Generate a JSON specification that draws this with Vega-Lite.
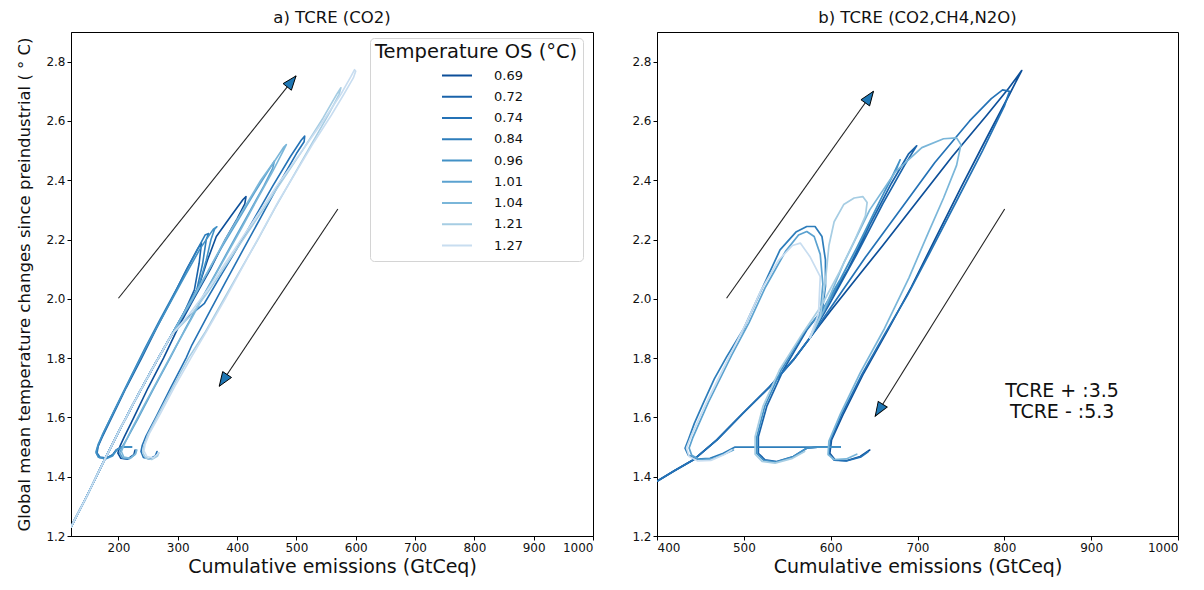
{
  "$schema": "https://vega.github.io/schema/vega-lite/v6.json",
  "padding": {"left": 16, "top": 9, "right": 0, "bottom": 0},
  "background": "white",
  "config": {
    "font": "DejaVu Sans",
    "view": {"stroke": "#000", "strokeWidth": 1},
    "axis": {
      "grid": false, "domainColor": "#000", "tickColor": "#000", "tickSize": 4,
      "labelFontSize": 12, "labelColor": "#111", "labelPadding": 2,
      "titleFontWeight": "normal", "titleColor": "#111", "labelFont": "DejaVu Sans", "titleFont": "DejaVu Sans"
    },
    "title": {"fontSize": 16.5, "fontWeight": "normal", "font": "DejaVu Sans", "color": "#111", "offset": 6},
    "text": {"font": "DejaVu Sans"}
  },
  "datasets": {
    "curves": [
      {"p":"a","s":"0.69","x":120,"y":1.23},{"p":"a","s":"0.69","x":148,"y":1.34},{"p":"a","s":"0.69","x":176,"y":1.455},{"p":"a","s":"0.69","x":200,"y":1.55},{"p":"a","s":"0.69","x":230,"y":1.665},{"p":"a","s":"0.69","x":260,"y":1.775},{"p":"a","s":"0.69","x":290,"y":1.88},
      {"p":"a","s":"0.69","x":320,"y":1.98},{"p":"a","s":"0.69","x":335,"y":2.04},{"p":"a","s":"0.69","x":350,"y":2.13},{"p":"a","s":"0.69","x":365,"y":2.21},{"p":"a","s":"0.69","x":390,"y":2.28},{"p":"a","s":"0.69","x":410,"y":2.335},{"p":"a","s":"0.69","x":415,"y":2.345},{"p":"a","s":"0.69","x":413,"y":2.32},{"p":"a","s":"0.69","x":400,"y":2.27},{"p":"a","s":"0.69","x":380,"y":2.2},{"p":"a","s":"0.69","x":355,"y":2.1},{"p":"a","s":"0.69","x":327,"y":2.0},{"p":"a","s":"0.69","x":300,"y":1.9},{"p":"a","s":"0.69","x":276,"y":1.8},{"p":"a","s":"0.69","x":250,"y":1.7},{"p":"a","s":"0.69","x":226,"y":1.6},{"p":"a","s":"0.69","x":210,"y":1.535},{"p":"a","s":"0.69","x":203,"y":1.505},{"p":"a","s":"0.69","x":199,"y":1.48},{"p":"a","s":"0.69","x":204,"y":1.462},{"p":"a","s":"0.69","x":215,"y":1.459},{"p":"a","s":"0.69","x":226,"y":1.474},{"p":"a","s":"0.69","x":228,"y":1.49},

      {"p":"a","s":"0.72","x":120,"y":1.23},{"p":"a","s":"0.72","x":148,"y":1.34},{"p":"a","s":"0.72","x":176,"y":1.455},{"p":"a","s":"0.72","x":200,"y":1.55},{"p":"a","s":"0.72","x":230,"y":1.665},{"p":"a","s":"0.72","x":260,"y":1.775},{"p":"a","s":"0.72","x":290,"y":1.88},
      {"p":"a","s":"0.72","x":310,"y":1.95},{"p":"a","s":"0.72","x":328,"y":2.03},{"p":"a","s":"0.72","x":336,"y":2.12},{"p":"a","s":"0.72","x":340,"y":2.188},{"p":"a","s":"0.72","x":334,"y":2.17},{"p":"a","s":"0.72","x":315,"y":2.1},{"p":"a","s":"0.72","x":290,"y":2.0},{"p":"a","s":"0.72","x":264,"y":1.9},{"p":"a","s":"0.72","x":239,"y":1.8},{"p":"a","s":"0.72","x":213,"y":1.7},{"p":"a","s":"0.72","x":190,"y":1.605},{"p":"a","s":"0.72","x":173,"y":1.535},{"p":"a","s":"0.72","x":165,"y":1.5},{"p":"a","s":"0.72","x":163,"y":1.478},{"p":"a","s":"0.72","x":168,"y":1.465},{"p":"a","s":"0.72","x":179,"y":1.462},{"p":"a","s":"0.72","x":190,"y":1.473},{"p":"a","s":"0.72","x":196,"y":1.49},{"p":"a","s":"0.72","x":205,"y":1.5},{"p":"a","s":"0.72","x":222,"y":1.5},

      {"p":"a","s":"0.74","x":120,"y":1.23},{"p":"a","s":"0.74","x":148,"y":1.34},{"p":"a","s":"0.74","x":176,"y":1.455},{"p":"a","s":"0.74","x":200,"y":1.55},{"p":"a","s":"0.74","x":230,"y":1.665},{"p":"a","s":"0.74","x":260,"y":1.775},{"p":"a","s":"0.74","x":290,"y":1.88},
      {"p":"a","s":"0.74","x":318,"y":1.94},{"p":"a","s":"0.74","x":345,"y":1.985},{"p":"a","s":"0.74","x":370,"y":2.07},{"p":"a","s":"0.74","x":400,"y":2.17},{"p":"a","s":"0.74","x":430,"y":2.275},{"p":"a","s":"0.74","x":460,"y":2.38},{"p":"a","s":"0.74","x":490,"y":2.48},{"p":"a","s":"0.74","x":508,"y":2.535},{"p":"a","s":"0.74","x":514,"y":2.549},{"p":"a","s":"0.74","x":513,"y":2.53},{"p":"a","s":"0.74","x":500,"y":2.49},{"p":"a","s":"0.74","x":470,"y":2.385},{"p":"a","s":"0.74","x":440,"y":2.275},{"p":"a","s":"0.74","x":410,"y":2.165},{"p":"a","s":"0.74","x":380,"y":2.055},{"p":"a","s":"0.74","x":352,"y":1.95},{"p":"a","s":"0.74","x":324,"y":1.845},{"p":"a","s":"0.74","x":314,"y":1.8},{"p":"a","s":"0.74","x":288,"y":1.7},{"p":"a","s":"0.74","x":263,"y":1.6},{"p":"a","s":"0.74","x":246,"y":1.535},{"p":"a","s":"0.74","x":240,"y":1.505},{"p":"a","s":"0.74","x":238,"y":1.485},{"p":"a","s":"0.74","x":242,"y":1.465},{"p":"a","s":"0.74","x":252,"y":1.46},{"p":"a","s":"0.74","x":262,"y":1.47},{"p":"a","s":"0.74","x":265,"y":1.485},

      {"p":"a","s":"0.84","x":120,"y":1.23},{"p":"a","s":"0.84","x":148,"y":1.34},{"p":"a","s":"0.84","x":176,"y":1.455},{"p":"a","s":"0.84","x":200,"y":1.55},{"p":"a","s":"0.84","x":230,"y":1.665},{"p":"a","s":"0.84","x":260,"y":1.775},{"p":"a","s":"0.84","x":290,"y":1.88},
      {"p":"a","s":"0.84","x":315,"y":1.97},{"p":"a","s":"0.84","x":332,"y":2.03},{"p":"a","s":"0.84","x":342,"y":2.12},{"p":"a","s":"0.84","x":348,"y":2.2},{"p":"a","s":"0.84","x":352,"y":2.22},{"p":"a","s":"0.84","x":346,"y":2.215},{"p":"a","s":"0.84","x":326,"y":2.14},{"p":"a","s":"0.84","x":300,"y":2.04},{"p":"a","s":"0.84","x":270,"y":1.93},{"p":"a","s":"0.84","x":244,"y":1.83},{"p":"a","s":"0.84","x":218,"y":1.725},{"p":"a","s":"0.84","x":192,"y":1.62},{"p":"a","s":"0.84","x":173,"y":1.54},{"p":"a","s":"0.84","x":166,"y":1.505},{"p":"a","s":"0.84","x":164,"y":1.48},{"p":"a","s":"0.84","x":169,"y":1.466},{"p":"a","s":"0.84","x":180,"y":1.463},{"p":"a","s":"0.84","x":191,"y":1.475},{"p":"a","s":"0.84","x":197,"y":1.49},{"p":"a","s":"0.84","x":206,"y":1.5},{"p":"a","s":"0.84","x":222,"y":1.5},

      {"p":"a","s":"0.96","x":120,"y":1.23},{"p":"a","s":"0.96","x":148,"y":1.34},{"p":"a","s":"0.96","x":176,"y":1.455},{"p":"a","s":"0.96","x":200,"y":1.55},{"p":"a","s":"0.96","x":230,"y":1.665},{"p":"a","s":"0.96","x":260,"y":1.775},{"p":"a","s":"0.96","x":290,"y":1.88},
      {"p":"a","s":"0.96","x":318,"y":1.98},{"p":"a","s":"0.96","x":335,"y":2.04},{"p":"a","s":"0.96","x":348,"y":2.13},{"p":"a","s":"0.96","x":356,"y":2.2},{"p":"a","s":"0.96","x":362,"y":2.235},{"p":"a","s":"0.96","x":366,"y":2.243},{"p":"a","s":"0.96","x":360,"y":2.235},{"p":"a","s":"0.96","x":338,"y":2.17},{"p":"a","s":"0.96","x":310,"y":2.07},{"p":"a","s":"0.96","x":280,"y":1.96},{"p":"a","s":"0.96","x":250,"y":1.85},{"p":"a","s":"0.96","x":222,"y":1.74},{"p":"a","s":"0.96","x":196,"y":1.635},{"p":"a","s":"0.96","x":175,"y":1.55},{"p":"a","s":"0.96","x":166,"y":1.51},{"p":"a","s":"0.96","x":162,"y":1.483},{"p":"a","s":"0.96","x":166,"y":1.466},{"p":"a","s":"0.96","x":178,"y":1.46},{"p":"a","s":"0.96","x":190,"y":1.47},{"p":"a","s":"0.96","x":197,"y":1.49},{"p":"a","s":"0.96","x":206,"y":1.5},{"p":"a","s":"0.96","x":222,"y":1.5},

      {"p":"a","s":"1.01","x":120,"y":1.23},{"p":"a","s":"1.01","x":148,"y":1.34},{"p":"a","s":"1.01","x":176,"y":1.455},{"p":"a","s":"1.01","x":200,"y":1.55},{"p":"a","s":"1.01","x":230,"y":1.665},{"p":"a","s":"1.01","x":260,"y":1.775},{"p":"a","s":"1.01","x":290,"y":1.88},
      {"p":"a","s":"1.01","x":320,"y":1.98},{"p":"a","s":"1.01","x":345,"y":2.07},{"p":"a","s":"1.01","x":370,"y":2.16},{"p":"a","s":"1.01","x":400,"y":2.26},{"p":"a","s":"1.01","x":430,"y":2.36},{"p":"a","s":"1.01","x":452,"y":2.43},{"p":"a","s":"1.01","x":463,"y":2.465},{"p":"a","s":"1.01","x":460,"y":2.44},{"p":"a","s":"1.01","x":445,"y":2.38},{"p":"a","s":"1.01","x":420,"y":2.29},{"p":"a","s":"1.01","x":395,"y":2.2},{"p":"a","s":"1.01","x":368,"y":2.1},{"p":"a","s":"1.01","x":340,"y":2.0},{"p":"a","s":"1.01","x":313,"y":1.9},{"p":"a","s":"1.01","x":287,"y":1.8},{"p":"a","s":"1.01","x":260,"y":1.7},{"p":"a","s":"1.01","x":234,"y":1.6},{"p":"a","s":"1.01","x":215,"y":1.53},{"p":"a","s":"1.01","x":206,"y":1.5},{"p":"a","s":"1.01","x":202,"y":1.48},{"p":"a","s":"1.01","x":207,"y":1.463},{"p":"a","s":"1.01","x":218,"y":1.46},{"p":"a","s":"1.01","x":228,"y":1.475},{"p":"a","s":"1.01","x":230,"y":1.49},

      {"p":"a","s":"1.04","x":120,"y":1.23},{"p":"a","s":"1.04","x":148,"y":1.34},{"p":"a","s":"1.04","x":176,"y":1.455},{"p":"a","s":"1.04","x":200,"y":1.55},{"p":"a","s":"1.04","x":230,"y":1.665},{"p":"a","s":"1.04","x":260,"y":1.775},{"p":"a","s":"1.04","x":290,"y":1.88},
      {"p":"a","s":"1.04","x":320,"y":1.985},{"p":"a","s":"1.04","x":350,"y":2.09},{"p":"a","s":"1.04","x":380,"y":2.2},{"p":"a","s":"1.04","x":410,"y":2.3},{"p":"a","s":"1.04","x":440,"y":2.4},{"p":"a","s":"1.04","x":465,"y":2.47},{"p":"a","s":"1.04","x":478,"y":2.51},{"p":"a","s":"1.04","x":483,"y":2.52},{"p":"a","s":"1.04","x":478,"y":2.5},{"p":"a","s":"1.04","x":460,"y":2.43},{"p":"a","s":"1.04","x":435,"y":2.34},{"p":"a","s":"1.04","x":408,"y":2.24},{"p":"a","s":"1.04","x":380,"y":2.14},{"p":"a","s":"1.04","x":352,"y":2.04},{"p":"a","s":"1.04","x":325,"y":1.94},{"p":"a","s":"1.04","x":297,"y":1.84},{"p":"a","s":"1.04","x":270,"y":1.74},{"p":"a","s":"1.04","x":243,"y":1.64},{"p":"a","s":"1.04","x":222,"y":1.56},{"p":"a","s":"1.04","x":210,"y":1.51},{"p":"a","s":"1.04","x":205,"y":1.485},{"p":"a","s":"1.04","x":209,"y":1.466},{"p":"a","s":"1.04","x":220,"y":1.462},{"p":"a","s":"1.04","x":229,"y":1.477},{"p":"a","s":"1.04","x":231,"y":1.49},

      {"p":"a","s":"1.21","x":120,"y":1.23},{"p":"a","s":"1.21","x":148,"y":1.34},{"p":"a","s":"1.21","x":176,"y":1.455},{"p":"a","s":"1.21","x":200,"y":1.55},{"p":"a","s":"1.21","x":230,"y":1.665},{"p":"a","s":"1.21","x":260,"y":1.775},{"p":"a","s":"1.21","x":290,"y":1.88},
      {"p":"a","s":"1.21","x":320,"y":1.94},{"p":"a","s":"1.21","x":350,"y":2.02},{"p":"a","s":"1.21","x":390,"y":2.14},{"p":"a","s":"1.21","x":430,"y":2.26},{"p":"a","s":"1.21","x":470,"y":2.38},{"p":"a","s":"1.21","x":510,"y":2.5},{"p":"a","s":"1.21","x":545,"y":2.61},{"p":"a","s":"1.21","x":568,"y":2.69},{"p":"a","s":"1.21","x":575,"y":2.712},{"p":"a","s":"1.21","x":572,"y":2.69},{"p":"a","s":"1.21","x":555,"y":2.625},{"p":"a","s":"1.21","x":525,"y":2.52},{"p":"a","s":"1.21","x":495,"y":2.415},{"p":"a","s":"1.21","x":465,"y":2.31},{"p":"a","s":"1.21","x":435,"y":2.2},{"p":"a","s":"1.21","x":405,"y":2.095},{"p":"a","s":"1.21","x":375,"y":1.99},{"p":"a","s":"1.21","x":347,"y":1.89},{"p":"a","s":"1.21","x":318,"y":1.8},{"p":"a","s":"1.21","x":292,"y":1.705},{"p":"a","s":"1.21","x":267,"y":1.61},{"p":"a","s":"1.21","x":249,"y":1.54},{"p":"a","s":"1.21","x":243,"y":1.505},{"p":"a","s":"1.21","x":241,"y":1.48},{"p":"a","s":"1.21","x":246,"y":1.463},{"p":"a","s":"1.21","x":256,"y":1.458},{"p":"a","s":"1.21","x":266,"y":1.47},{"p":"a","s":"1.21","x":268,"y":1.48},

      {"p":"a","s":"1.27","x":120,"y":1.23},{"p":"a","s":"1.27","x":148,"y":1.34},{"p":"a","s":"1.27","x":176,"y":1.455},{"p":"a","s":"1.27","x":200,"y":1.55},{"p":"a","s":"1.27","x":230,"y":1.665},{"p":"a","s":"1.27","x":260,"y":1.775},{"p":"a","s":"1.27","x":290,"y":1.88},
      {"p":"a","s":"1.27","x":320,"y":1.95},{"p":"a","s":"1.27","x":350,"y":2.03},{"p":"a","s":"1.27","x":390,"y":2.15},{"p":"a","s":"1.27","x":430,"y":2.27},{"p":"a","s":"1.27","x":470,"y":2.39},{"p":"a","s":"1.27","x":510,"y":2.5},{"p":"a","s":"1.27","x":545,"y":2.6},{"p":"a","s":"1.27","x":575,"y":2.69},{"p":"a","s":"1.27","x":592,"y":2.75},{"p":"a","s":"1.27","x":598,"y":2.773},{"p":"a","s":"1.27","x":600,"y":2.768},{"p":"a","s":"1.27","x":596,"y":2.745},{"p":"a","s":"1.27","x":580,"y":2.69},{"p":"a","s":"1.27","x":559,"y":2.62},{"p":"a","s":"1.27","x":530,"y":2.53},{"p":"a","s":"1.27","x":500,"y":2.43},{"p":"a","s":"1.27","x":470,"y":2.33},{"p":"a","s":"1.27","x":440,"y":2.22},{"p":"a","s":"1.27","x":410,"y":2.11},{"p":"a","s":"1.27","x":380,"y":2.0},{"p":"a","s":"1.27","x":350,"y":1.895},{"p":"a","s":"1.27","x":322,"y":1.8},{"p":"a","s":"1.27","x":295,"y":1.705},{"p":"a","s":"1.27","x":270,"y":1.61},{"p":"a","s":"1.27","x":252,"y":1.545},{"p":"a","s":"1.27","x":245,"y":1.51},{"p":"a","s":"1.27","x":243,"y":1.487},{"p":"a","s":"1.27","x":248,"y":1.468},{"p":"a","s":"1.27","x":258,"y":1.463},{"p":"a","s":"1.27","x":268,"y":1.48},

      {"p":"b","s":"0.69","x":400,"y":1.385},{"p":"b","s":"0.69","x":420,"y":1.42},{"p":"b","s":"0.69","x":442,"y":1.457},{"p":"b","s":"0.69","x":469,"y":1.524},{"p":"b","s":"0.69","x":499,"y":1.614},{"p":"b","s":"0.69","x":530,"y":1.704},{"p":"b","s":"0.69","x":557,"y":1.794},{"p":"b","s":"0.69","x":576,"y":1.868},
      {"p":"b","s":"0.69","x":600,"y":1.96},{"p":"b","s":"0.69","x":630,"y":2.07},{"p":"b","s":"0.69","x":660,"y":2.18},{"p":"b","s":"0.69","x":700,"y":2.33},{"p":"b","s":"0.69","x":740,"y":2.48},{"p":"b","s":"0.69","x":780,"y":2.62},{"p":"b","s":"0.69","x":805,"y":2.71},{"p":"b","s":"0.69","x":820,"y":2.77},{"p":"b","s":"0.69","x":806,"y":2.69},{"p":"b","s":"0.69","x":780,"y":2.545},{"p":"b","s":"0.69","x":750,"y":2.375},{"p":"b","s":"0.69","x":720,"y":2.2},{"p":"b","s":"0.69","x":693,"y":2.04},{"p":"b","s":"0.69","x":666,"y":1.895},{"p":"b","s":"0.69","x":638,"y":1.749},{"p":"b","s":"0.69","x":615,"y":1.614},{"p":"b","s":"0.69","x":601,"y":1.524},{"p":"b","s":"0.69","x":599,"y":1.479},{"p":"b","s":"0.69","x":605,"y":1.457},{"p":"b","s":"0.69","x":618,"y":1.454},{"p":"b","s":"0.69","x":634,"y":1.468},{"p":"b","s":"0.69","x":645,"y":1.49},

      {"p":"b","s":"0.72","x":400,"y":1.385},{"p":"b","s":"0.72","x":420,"y":1.42},{"p":"b","s":"0.72","x":442,"y":1.457},{"p":"b","s":"0.72","x":469,"y":1.524},{"p":"b","s":"0.72","x":499,"y":1.614},{"p":"b","s":"0.72","x":530,"y":1.704},{"p":"b","s":"0.72","x":557,"y":1.794},{"p":"b","s":"0.72","x":576,"y":1.868},
      {"p":"b","s":"0.72","x":600,"y":1.99},{"p":"b","s":"0.72","x":630,"y":2.15},{"p":"b","s":"0.72","x":660,"y":2.32},{"p":"b","s":"0.72","x":685,"y":2.45},{"p":"b","s":"0.72","x":699,"y":2.516},{"p":"b","s":"0.72","x":690,"y":2.49},{"p":"b","s":"0.72","x":670,"y":2.39},{"p":"b","s":"0.72","x":645,"y":2.25},{"p":"b","s":"0.72","x":620,"y":2.1},{"p":"b","s":"0.72","x":595,"y":1.98},{"p":"b","s":"0.72","x":572.5,"y":1.895},{"p":"b","s":"0.72","x":545.5,"y":1.76},{"p":"b","s":"0.72","x":526.4,"y":1.637},{"p":"b","s":"0.72","x":516.7,"y":1.535},{"p":"b","s":"0.72","x":516.7,"y":1.479},{"p":"b","s":"0.72","x":524.4,"y":1.457},{"p":"b","s":"0.72","x":537.9,"y":1.451},{"p":"b","s":"0.72","x":557,"y":1.468},{"p":"b","s":"0.72","x":572.5,"y":1.496},{"p":"b","s":"0.72","x":585,"y":1.5},{"p":"b","s":"0.72","x":611,"y":1.5},

      {"p":"b","s":"0.74","x":400,"y":1.385},{"p":"b","s":"0.74","x":420,"y":1.42},{"p":"b","s":"0.74","x":442,"y":1.457},{"p":"b","s":"0.74","x":469,"y":1.524},{"p":"b","s":"0.74","x":499,"y":1.614},{"p":"b","s":"0.74","x":530,"y":1.704},{"p":"b","s":"0.74","x":557,"y":1.794},{"p":"b","s":"0.74","x":576,"y":1.868},
      {"p":"b","s":"0.74","x":600,"y":1.97},{"p":"b","s":"0.74","x":640,"y":2.14},{"p":"b","s":"0.74","x":680,"y":2.3},{"p":"b","s":"0.74","x":720,"y":2.46},{"p":"b","s":"0.74","x":760,"y":2.6},{"p":"b","s":"0.74","x":785,"y":2.675},{"p":"b","s":"0.74","x":798,"y":2.705},{"p":"b","s":"0.74","x":806,"y":2.7},{"p":"b","s":"0.74","x":800,"y":2.65},{"p":"b","s":"0.74","x":775,"y":2.5},{"p":"b","s":"0.74","x":745,"y":2.33},{"p":"b","s":"0.74","x":715,"y":2.16},{"p":"b","s":"0.74","x":688,"y":2.01},{"p":"b","s":"0.74","x":662,"y":1.88},{"p":"b","s":"0.74","x":636,"y":1.745},{"p":"b","s":"0.74","x":613,"y":1.612},{"p":"b","s":"0.74","x":600,"y":1.524},{"p":"b","s":"0.74","x":598,"y":1.478},{"p":"b","s":"0.74","x":604,"y":1.456},{"p":"b","s":"0.74","x":618,"y":1.453},{"p":"b","s":"0.74","x":635,"y":1.467},{"p":"b","s":"0.74","x":643,"y":1.484},

      {"p":"b","s":"0.84","x":576,"y":1.868},{"p":"b","s":"0.84","x":590,"y":1.952},{"p":"b","s":"0.84","x":594,"y":2.042},{"p":"b","s":"0.84","x":594,"y":2.131},{"p":"b","s":"0.84","x":590,"y":2.21},{"p":"b","s":"0.84","x":582,"y":2.244},{"p":"b","s":"0.84","x":572.5,"y":2.244},{"p":"b","s":"0.84","x":560,"y":2.225},{"p":"b","s":"0.84","x":541.7,"y":2.165},{"p":"b","s":"0.84","x":518.7,"y":2.02},{"p":"b","s":"0.84","x":500,"y":1.9},{"p":"b","s":"0.84","x":480.3,"y":1.805},{"p":"b","s":"0.84","x":466,"y":1.73},{"p":"b","s":"0.84","x":453.3,"y":1.648},{"p":"b","s":"0.84","x":443,"y":1.58},{"p":"b","s":"0.84","x":436,"y":1.524},{"p":"b","s":"0.84","x":432.3,"y":1.496},{"p":"b","s":"0.84","x":436,"y":1.473},{"p":"b","s":"0.84","x":445.7,"y":1.459},{"p":"b","s":"0.84","x":461,"y":1.462},{"p":"b","s":"0.84","x":476.4,"y":1.479},{"p":"b","s":"0.84","x":489.9,"y":1.5},{"p":"b","s":"0.84","x":611,"y":1.5},

      {"p":"b","s":"0.96","x":576,"y":1.868},{"p":"b","s":"0.96","x":598,"y":1.99},{"p":"b","s":"0.96","x":628,"y":2.16},{"p":"b","s":"0.96","x":655,"y":2.32},{"p":"b","s":"0.96","x":672,"y":2.42},{"p":"b","s":"0.96","x":680,"y":2.469},{"p":"b","s":"0.96","x":676,"y":2.44},{"p":"b","s":"0.96","x":660,"y":2.35},{"p":"b","s":"0.96","x":635,"y":2.2},{"p":"b","s":"0.96","x":610,"y":2.06},{"p":"b","s":"0.96","x":590,"y":1.96},{"p":"b","s":"0.96","x":570,"y":1.89},{"p":"b","s":"0.96","x":543,"y":1.76},{"p":"b","s":"0.96","x":524,"y":1.637},{"p":"b","s":"0.96","x":515,"y":1.535},{"p":"b","s":"0.96","x":515,"y":1.478},{"p":"b","s":"0.96","x":523,"y":1.455},{"p":"b","s":"0.96","x":537,"y":1.449},{"p":"b","s":"0.96","x":556,"y":1.466},{"p":"b","s":"0.96","x":572,"y":1.496},{"p":"b","s":"0.96","x":585,"y":1.5},{"p":"b","s":"0.96","x":611,"y":1.5},

      {"p":"b","s":"1.01","x":576,"y":1.868},{"p":"b","s":"1.01","x":588,"y":1.95},{"p":"b","s":"1.01","x":591,"y":2.05},{"p":"b","s":"1.01","x":588,"y":2.15},{"p":"b","s":"1.01","x":581,"y":2.21},{"p":"b","s":"1.01","x":572.5,"y":2.227},{"p":"b","s":"1.01","x":563,"y":2.215},{"p":"b","s":"1.01","x":548,"y":2.16},{"p":"b","s":"1.01","x":525,"y":2.04},{"p":"b","s":"1.01","x":506,"y":1.92},{"p":"b","s":"1.01","x":486,"y":1.81},{"p":"b","s":"1.01","x":459,"y":1.65},{"p":"b","s":"1.01","x":441,"y":1.53},{"p":"b","s":"1.01","x":437,"y":1.497},{"p":"b","s":"1.01","x":440,"y":1.472},{"p":"b","s":"1.01","x":449,"y":1.458},{"p":"b","s":"1.01","x":464,"y":1.46},{"p":"b","s":"1.01","x":479,"y":1.478},{"p":"b","s":"1.01","x":488,"y":1.49},

      {"p":"b","s":"1.04","x":576,"y":1.868},{"p":"b","s":"1.04","x":592,"y":1.96},{"p":"b","s":"1.04","x":615,"y":2.12},{"p":"b","s":"1.04","x":645,"y":2.3},{"p":"b","s":"1.04","x":675,"y":2.43},{"p":"b","s":"1.04","x":705,"y":2.51},{"p":"b","s":"1.04","x":730,"y":2.54},{"p":"b","s":"1.04","x":745,"y":2.543},{"p":"b","s":"1.04","x":750,"y":2.52},{"p":"b","s":"1.04","x":745,"y":2.45},{"p":"b","s":"1.04","x":730,"y":2.34},{"p":"b","s":"1.04","x":712,"y":2.22},{"p":"b","s":"1.04","x":690,"y":2.07},{"p":"b","s":"1.04","x":662,"y":1.9},{"p":"b","s":"1.04","x":634,"y":1.75},{"p":"b","s":"1.04","x":611,"y":1.61},{"p":"b","s":"1.04","x":598,"y":1.52},{"p":"b","s":"1.04","x":597,"y":1.475},{"p":"b","s":"1.04","x":604,"y":1.458},{"p":"b","s":"1.04","x":618,"y":1.46},{"p":"b","s":"1.04","x":630,"y":1.476},

      {"p":"b","s":"1.21","x":576,"y":1.868},{"p":"b","s":"1.21","x":588,"y":1.94},{"p":"b","s":"1.21","x":594,"y":2.06},{"p":"b","s":"1.21","x":598,"y":2.18},{"p":"b","s":"1.21","x":604,"y":2.26},{"p":"b","s":"1.21","x":615,"y":2.318},{"p":"b","s":"1.21","x":627,"y":2.34},{"p":"b","s":"1.21","x":637,"y":2.345},{"p":"b","s":"1.21","x":642,"y":2.325},{"p":"b","s":"1.21","x":640,"y":2.28},{"p":"b","s":"1.21","x":628,"y":2.2},{"p":"b","s":"1.21","x":610,"y":2.09},{"p":"b","s":"1.21","x":590,"y":1.98},{"p":"b","s":"1.21","x":568,"y":1.885},{"p":"b","s":"1.21","x":541,"y":1.76},{"p":"b","s":"1.21","x":522,"y":1.637},{"p":"b","s":"1.21","x":513,"y":1.535},{"p":"b","s":"1.21","x":513,"y":1.476},{"p":"b","s":"1.21","x":521,"y":1.452},{"p":"b","s":"1.21","x":536,"y":1.446},{"p":"b","s":"1.21","x":556,"y":1.462},{"p":"b","s":"1.21","x":570,"y":1.485},

      {"p":"b","s":"1.27","x":576,"y":1.868},{"p":"b","s":"1.27","x":586,"y":1.95},{"p":"b","s":"1.27","x":588,"y":2.075},{"p":"b","s":"1.27","x":576,"y":2.143},{"p":"b","s":"1.27","x":565,"y":2.188},{"p":"b","s":"1.27","x":556,"y":2.18},{"p":"b","s":"1.27","x":540,"y":2.13},{"p":"b","s":"1.27","x":520,"y":2.03},{"p":"b","s":"1.27","x":503,"y":1.92},{"p":"b","s":"1.27","x":484,"y":1.81},{"p":"b","s":"1.27","x":457,"y":1.65},{"p":"b","s":"1.27","x":439,"y":1.535},{"p":"b","s":"1.27","x":434,"y":1.497},{"p":"b","s":"1.27","x":437,"y":1.468},{"p":"b","s":"1.27","x":447,"y":1.453},{"p":"b","s":"1.27","x":462,"y":1.455},{"p":"b","s":"1.27","x":477,"y":1.474},{"p":"b","s":"1.27","x":486,"y":1.49}
    ],
    "arrows": [
      {"p":"a","k":"up","x":200,"y":2.002,"x2":499.4,"y2":2.752},
      {"p":"a","k":"down","x":569.9,"y":2.303,"x2":369.9,"y2":1.705},
      {"p":"b","k":"up","x":480.1,"y":2.002,"x2":649.3,"y2":2.70},
      {"p":"b","k":"down","x":800.4,"y":2.303,"x2":651.3,"y2":1.604}
    ],
    "heads": [
      {"p":"a","k":"up","x":499.4,"y":2.752},
      {"p":"a","k":"down","x":369.9,"y":1.705},
      {"p":"b","k":"up","x":649.3,"y":2.70},
      {"p":"b","k":"down","x":651.3,"y":1.604}
    ],
    "notes": [
      {"p":"b","x":866.6,"y":1.689,"t":"TCRE + :3.5"},
      {"p":"b","x":866.6,"y":1.619,"t":"TCRE - :5.3"}
    ]
  },
  "hconcat": [
    {
      "width": 522,
      "height": 504,
      "title": {"text": "a) TCRE (CO2)"},
      "encoding": {
        "x": {"field": "x", "type": "quantitative",
              "scale": {"domain": [120, 1000], "nice": false, "zero": false},
              "axis": {"values": [200, 300, 400, 500, 600, 700, 800, 900, 1000], "format": "d", "title": "Cumulative emissions (GtCeq)", "titleFontSize": 19, "titlePadding": 4}},
        "y": {"field": "y", "type": "quantitative",
              "scale": {"domain": [1.2, 2.9], "nice": false, "zero": false},
              "axis": {"values": [1.2, 1.4, 1.6, 1.8, 2.0, 2.2, 2.4, 2.6, 2.8], "format": ".1f", "title": "Global mean temperature changes since preindustrial ( ° C)", "titleFontSize": 16.5, "titlePadding": 13}}
      },
      "layer": [
        {
          "data": {"name": "curves"},
          "transform": [{"filter": "datum.p === 'a'"}],
          "mark": {"type": "line", "strokeWidth": 1.6, "clip": true, "strokeJoin": "round", "strokeCap": "round"},
          "encoding": {
            "color": {"field": "s", "type": "nominal",
              "scale": {"domain": ["0.69","0.72","0.74","0.84","0.96","1.01","1.04","1.21","1.27"],
                        "range": ["#0d4f99","#1a63aa","#2472b6","#2d7dbb","#4291c6","#5ba2d0","#7ab6d9","#a6cde3","#c8ddf0"]},
              "legend": {"title": "Temperature OS (°C)", "orient": "none", "legendX": 299, "legendY": 6,
                         "symbolType": "stroke", "symbolStrokeWidth": 2, "symbolSize": 900,
                         "labelFontSize": 13, "labelOffset": 21, "labelColor": "#111",
                         "titleFontSize": 19.5, "titleFontWeight": "normal", "titleColor": "#111", "titlePadding": 3, "titleLimit": 400,
                         "fillColor": "white", "strokeColor": "#d4d4d4", "cornerRadius": 4, "padding": 5,
                         "clipHeight": 20, "rowPadding": 1.25, "symbolOffset": 66}},
            "order": {"value": null}
          }
        },
        {
          "data": {"name": "arrows"},
          "transform": [{"filter": "datum.p === 'a'"}],
          "mark": {"type": "rule", "color": "#222", "strokeWidth": 1.1},
          "encoding": {"x2": {"field": "x2"}, "y2": {"field": "y2"}}
        },
        {
          "data": {"name": "heads"},
          "transform": [{"filter": "datum.p === 'a' && datum.k === 'up'"}],
          "mark": {"type": "point", "shape": "M0,0L-0.75,2L0.75,2Z", "filled": true, "fill": "#1f77b4", "stroke": "#000", "strokeWidth": 0.9, "size": 200, "opacity": 1, "angle": 38.6}
        },
        {
          "data": {"name": "heads"},
          "transform": [{"filter": "datum.p === 'a' && datum.k === 'down'"}],
          "mark": {"type": "point", "shape": "M0,0L-0.75,2L0.75,2Z", "filled": true, "fill": "#1f77b4", "stroke": "#000", "strokeWidth": 0.9, "size": 200, "opacity": 1, "angle": 213.8}
        }
      ]
    },
    {
      "width": 521,
      "height": 504,
      "title": {"text": "b) TCRE (CO2,CH4,N2O)"},
      "encoding": {
        "x": {"field": "x", "type": "quantitative",
              "scale": {"domain": [400, 1000], "nice": false, "zero": false},
              "axis": {"values": [400, 500, 600, 700, 800, 900, 1000], "format": "d", "title": "Cumulative emissions (GtCeq)", "titleFontSize": 19, "titlePadding": 4}},
        "y": {"field": "y", "type": "quantitative",
              "scale": {"domain": [1.2, 2.9], "nice": false, "zero": false},
              "axis": {"values": [1.2, 1.4, 1.6, 1.8, 2.0, 2.2, 2.4, 2.6, 2.8], "format": ".1f", "title": null}}
      },
      "layer": [
        {
          "data": {"name": "curves"},
          "transform": [{"filter": "datum.p === 'b'"}],
          "mark": {"type": "line", "strokeWidth": 1.7, "clip": true, "strokeJoin": "round", "strokeCap": "round"},
          "encoding": {
            "color": {"field": "s", "type": "nominal",
              "scale": {"domain": ["0.69","0.72","0.74","0.84","0.96","1.01","1.04","1.21","1.27"],
                        "range": ["#0d4f99","#1a63aa","#2472b6","#2d7dbb","#4291c6","#5ba2d0","#7ab6d9","#a6cde3","#c8ddf0"]},
              "legend": null},
            "order": {"value": null}
          }
        },
        {
          "data": {"name": "arrows"},
          "transform": [{"filter": "datum.p === 'b'"}],
          "mark": {"type": "rule", "color": "#222", "strokeWidth": 1.1},
          "encoding": {"x2": {"field": "x2"}, "y2": {"field": "y2"}}
        },
        {
          "data": {"name": "heads"},
          "transform": [{"filter": "datum.p === 'b' && datum.k === 'up'"}],
          "mark": {"type": "point", "shape": "M0,0L-0.75,2L0.75,2Z", "filled": true, "fill": "#1f77b4", "stroke": "#000", "strokeWidth": 0.9, "size": 200, "opacity": 1, "angle": 35.4}
        },
        {
          "data": {"name": "heads"},
          "transform": [{"filter": "datum.p === 'b' && datum.k === 'down'"}],
          "mark": {"type": "point", "shape": "M0,0L-0.75,2L0.75,2Z", "filled": true, "fill": "#1f77b4", "stroke": "#000", "strokeWidth": 0.9, "size": 200, "opacity": 1, "angle": 212}
        },
        {
          "data": {"name": "notes"},
          "transform": [{"filter": "datum.p === 'b'"}],
          "mark": {"type": "text", "fontSize": 19, "align": "center", "baseline": "middle", "color": "#111"},
          "encoding": {"text": {"field": "t"}}
        }
      ]
    }
  ],
  "spacing": 64,
  "bounds": "flush",
  "resolve": {"scale": {"x": "independent", "y": "independent", "color": "independent"}}
}
